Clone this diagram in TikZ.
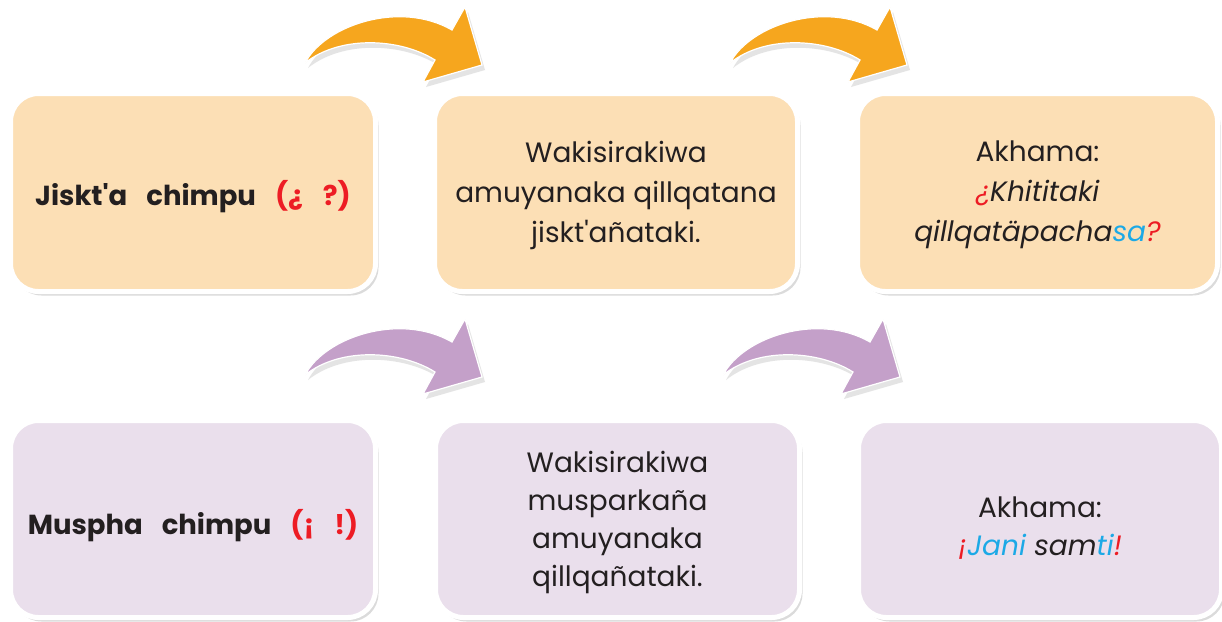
\documentclass[tikz,border=0pt]{standalone}
\usepackage{fontspec}
\setmainfont{Poppins}
\usetikzlibrary{shadows}
\definecolor{boxorange}{HTML}{FCDFB5}
\definecolor{boxpurple}{HTML}{EADFEC}
\definecolor{arroworange}{HTML}{F6A61E}
\definecolor{arrowpurple}{HTML}{C4A0C9}
\definecolor{txtred}{HTML}{ED1C24}
\definecolor{txtblue}{HTML}{1CA9E6}
\definecolor{txtdark}{HTML}{231F20}
\newcommand\wgap{\hspace{19pt}}
\tikzset{
  card/.style={draw=white, line width=5pt, rounded corners=28pt, align=center,
    text=txtdark, inner sep=0pt,
    drop shadow={shadow xshift=3pt, shadow yshift=-4pt, opacity=0.2, fill=black!70},
    font=\fontsize{28}{39}\selectfont},
  ocard/.style={card, fill=boxorange},
  pcard/.style={card, fill=boxpurple},
  boldtext/.style={font=\fontsize{27.5}{39}\selectfont\bfseries},
  arrowshape/.style={draw=white, line width=1.2pt, line join=miter,
    drop shadow={shadow xshift=3pt, shadow yshift=-5pt, opacity=0.15, fill=black!70}},
  pics/bendarrow/.style={code={
    \path[arrowshape, fill=#1] (0,0) .. controls (20,-38) and (95,-63) .. (147,-33)
      -- (160,-56) -- (177,2) -- (118,19) -- (130,-3)
      .. controls (95,-25) and (35,-28) .. cycle;}},
}
\begin{document}
\begin{tikzpicture}[x=1pt,y=-1pt]
\useasboundingbox[fill=white] (0,0) rectangle (1222,621);
% arrows
\pic (a1) at (305,63) {bendarrow=arroworange};
\pic (a2) at (730,63) {bendarrow=arroworange};
\pic (a3) at (305,375) {bendarrow=arrowpurple};
\pic (a4) at (723,375) {bendarrow=arrowpurple};
% top row
\node[ocard, boldtext, minimum width=365pt, minimum height=198pt] (b1) at (193,192.5) {};
\node[boldtext, text=txtdark] (t1) at (193,197)
  {Jiskt\textquotesingle a\wgap chimpu\wgap\textcolor{txtred}{(¿\hspace{20pt}?)}};
\node[ocard, minimum width=363pt, minimum height=198pt] (b2) at (616,192.5) {};
\node[align=center, text=txtdark, font=\fontsize{28}{40}\selectfont] (t2) at (616,195)
  {Wakisirakiwa\\amuyanaka qillqatana\\jiskt\textquotesingle añataki.};
\node[ocard, minimum width=360pt, minimum height=198pt] (b3) at (1037.5,192.5) {};
\node[align=center, text=txtdark, font=\fontsize{28}{40}\selectfont] (t3) at (1037.5,195)
  {Akhama:\\\itshape\textcolor{txtred}{¿}Khititaki\\\itshape qillqatäpacha\textcolor{txtblue}{sa}\textcolor{txtred}{?}};
% bottom row
\node[pcard, minimum width=365pt, minimum height=197pt] (b4) at (193,519) {};
\node[boldtext, text=txtdark] (t4) at (193,526)
  {Muspha\wgap chimpu\wgap\textcolor{txtred}{(¡\hspace{20pt}!)}};
\node[pcard, minimum width=364pt, minimum height=197pt] (b5) at (617.5,519) {};
\node[align=center, text=txtdark, font=\fontsize{28}{38}\selectfont] (t5) at (617.5,522)
  {Wakisirakiwa\\musparkaña\\amuyanaka\\qillqañataki.};
\node[pcard, minimum width=363pt, minimum height=197pt] (b6) at (1040,519) {};
\node[align=center, text=txtdark, font=\fontsize{28}{38}\selectfont] (t6) at (1040,528)
  {Akhama:\\\itshape\textcolor{txtred}{¡}\textcolor{txtblue}{Jani} sam\textcolor{txtblue}{ti}\textcolor{txtred}{!}};
\end{tikzpicture}
\end{document}
